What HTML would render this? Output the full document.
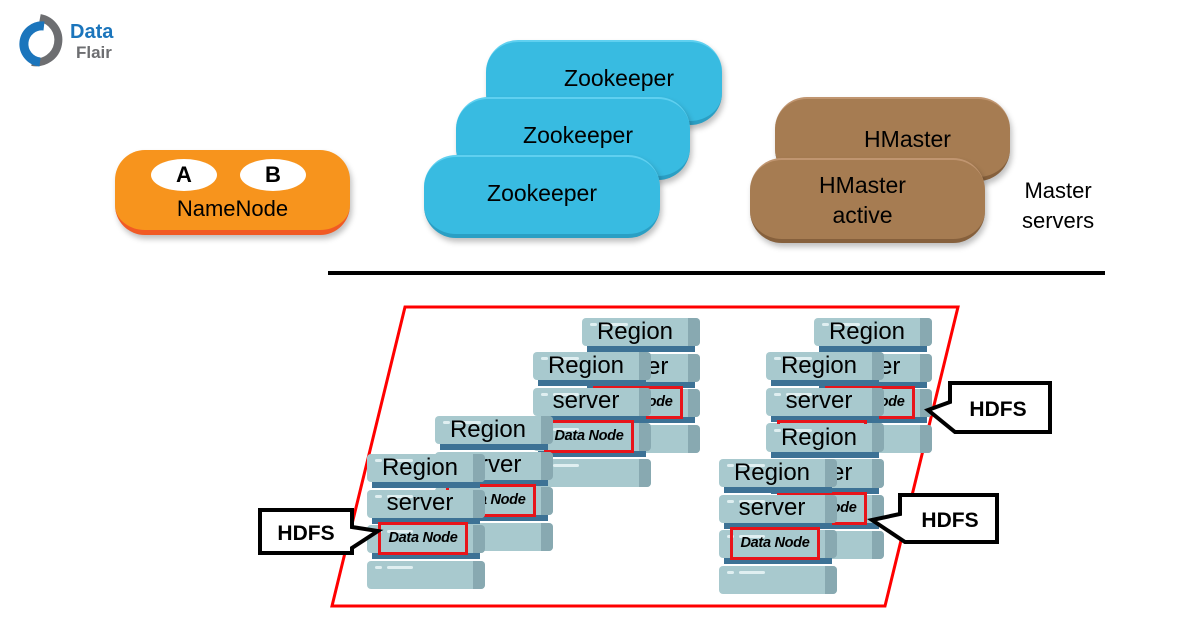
<!DOCTYPE html>
<html><head><meta charset="utf-8"><style>
body{margin:0;width:1200px;height:628px;background:#fff;position:relative;overflow:hidden;font-family:"Liberation Sans",sans-serif}
.a{position:absolute}
.pill{position:absolute;border-radius:32px;text-align:center;color:#000;font-size:23px;box-shadow:2px 4px 6px rgba(0,0,0,.25)}
.zk{background:#38bbe1;border-bottom:4px solid #2a9fc4;border-top:2px solid #5fd0f0}
.hm{background:#a67c52;border-bottom:4px solid #86603c;border-top:2px solid #c09570}
.st{position:absolute;width:118px;height:135px}
.band{position:absolute;left:5px;width:108px;height:10px;background:#3d7295}
.sl{position:absolute;left:0;width:118px;height:28px;background:#a8c9ce;border-radius:4px;overflow:hidden}
.sl::after{content:"";position:absolute;right:0;top:0;width:12px;height:28px;background:#88a9b1}
.sl i{position:absolute;left:8px;top:5px;width:7px;height:3px;background:#e0eff1;border-radius:2px}
.sl b{position:absolute;left:20px;top:5px;width:26px;height:3px;background:#e0eff1;border-radius:2px}
.tx{position:absolute;left:0;width:106px;text-align:center;font-size:24px;line-height:28px;color:#000;z-index:2}
.dn{position:absolute;left:11px;top:68px;width:84px;height:27px;border:3px solid #e8141a;z-index:3;font-size:14.5px;font-weight:bold;font-style:italic;text-align:center;line-height:27px;color:#000;letter-spacing:-0.3px;white-space:nowrap}
</style></head><body>
<svg class="a" style="left:18px;top:14px" width="110" height="55">
<path d="M22 4 A22 22 0 1 1 14 48" fill="none" stroke="#6d6e71" stroke-width="8"/>
<path d="M26 12 A18 18 0 1 0 22 48" fill="none" stroke="#1b75bc" stroke-width="9"/>
<text x="52" y="24" font-family="Liberation Sans" font-weight="bold" font-size="20" fill="#1b75bc">Data</text>
<text x="58" y="44" font-family="Liberation Sans" font-weight="bold" font-size="17" fill="#6d6e71">Flair</text>
</svg>
<div class="pill" style="left:115px;top:150px;width:235px;height:80px;background:#f7941d;border-bottom:5px solid #f15a24;border-radius:30px">
<div class="a" style="left:36px;top:9px;width:66px;height:32px;border-radius:50%;background:#fff;font-weight:bold;font-size:22px;line-height:32px">A</div>
<div class="a" style="left:125px;top:9px;width:66px;height:32px;border-radius:50%;background:#fff;font-weight:bold;font-size:22px;line-height:32px">B</div>
<div class="a" style="left:0;top:46px;width:235px;font-size:22px">NameNode</div></div>
<div class="pill zk" style="left:486px;top:40px;width:236px;height:79px;line-height:72px;text-indent:30px">Zookeeper</div>
<div class="pill zk" style="left:456px;top:97px;width:234px;height:77px;line-height:72px;text-indent:10px">Zookeeper</div>
<div class="pill zk" style="left:424px;top:155px;width:236px;height:77px;line-height:72px;text-indent:0">Zookeeper</div>
<div class="pill hm" style="left:775px;top:97px;width:235px;height:78px;line-height:80px;text-indent:30px">HMaster</div>
<div class="pill hm" style="left:750px;top:158px;width:235px;height:79px;line-height:30px"><div style="padding-top:10px;margin-left:-10px">HMaster<br>active</div></div>
<div class="a" style="left:1022px;top:176px;font-size:22px;line-height:30px;text-align:center">Master<br>servers</div>
<div class="a" style="left:328px;top:271px;width:777px;height:4px;background:#000"></div>
<svg class="a" style="left:0;top:0" width="1200" height="628">
<polygon points="405,307 958,307 885,606 332,606" fill="none" stroke="#f00" stroke-width="3"/>
</svg>
<div id="stacks"></div>
<script>
var S=[[582,318],[533,352],[435,416],[367,454],[814,318],[766,352],[766,424],[719,459]];
var h="";
S.forEach(function(p,n){
 h+='<div class="st" style="left:'+p[0]+'px;top:'+p[1]+'px;z-index:'+(n+1)+'">';
 for(var k=0;k<3;k++)h+='<div class="band" style="top:'+(24+k*35.5)+'px"></div>';
 for(var k=0;k<4;k++)h+='<div class="sl" style="top:'+(k*35.5)+'px"><i></i><b></b></div>';
 h+='<div class="tx" style="top:0">Region</div><div class="tx" style="top:35px">server</div><div class="dn">Data Node</div></div>';
});
document.getElementById("stacks").innerHTML=h;
</script>
<svg class="a" style="left:0;top:0;z-index:20" width="1200" height="628">
<path d="M260,510 H352 V527 L378,531 L352,548 V553 H260 Z" fill="#fff" stroke="#000" stroke-width="4" stroke-linejoin="miter"/>
<text x="306" y="540" text-anchor="middle" font-family="Liberation Sans" font-weight="bold" font-size="21">HDFS</text>
<path d="M950,383 H1050 V432 H955 L928,410 L950,402 Z" fill="#fff" stroke="#000" stroke-width="4"/>
<text x="998" y="416" text-anchor="middle" font-family="Liberation Sans" font-weight="bold" font-size="21">HDFS</text>
<path d="M900,495 H997 V542 H905 L872,520 L900,514 Z" fill="#fff" stroke="#000" stroke-width="4"/>
<text x="950" y="527" text-anchor="middle" font-family="Liberation Sans" font-weight="bold" font-size="21">HDFS</text>
</svg>
</body></html>
